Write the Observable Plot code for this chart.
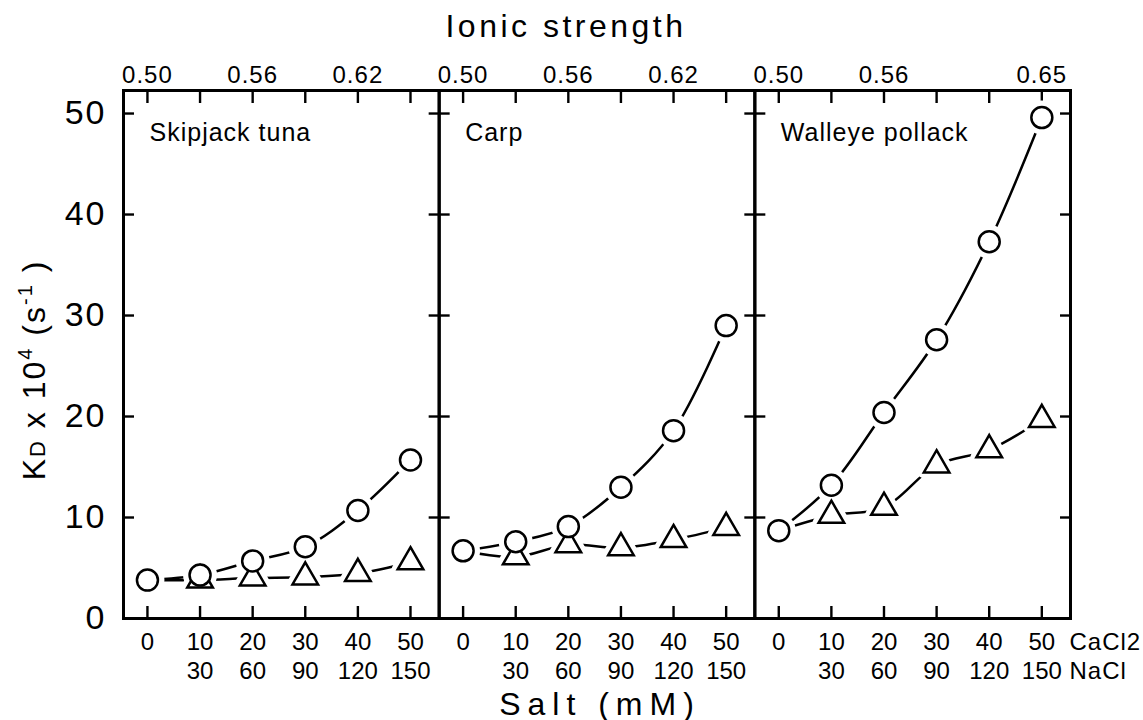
<!DOCTYPE html>
<html>
<head>
<meta charset="utf-8">
<script src="https://cdn.jsdelivr.net/npm/d3@7"></script>
<script src="https://cdn.jsdelivr.net/npm/@observablehq/plot@0.6"></script>
<style>
  html, body { margin: 0; padding: 0; background: #fff; }
  #chart svg { display: block; }
</style>
</head>
<body>
<div id="chart"></div>
<script>
// ---- data ----
const species = ["Skipjack tuna", "Carp", "Walleye pollack"];
const cacl2 = [0, 10, 20, 30, 40, 50];               // CaCl2 (mM)
const naclLabels = ["", "30", "60", "90", "120", "150"]; // NaCl (mM)
const yTicks = [0, 10, 20, 30, 40, 50];
const ionicSkipjack = ["0.50", "", "0.56", "", "0.62", ""];
const ionicCarp = ["0.50", "", "0.56", "", "0.62", ""];
const ionicWalleye = ["0.50", "", "0.56", "", "", "0.65"];

// KD x 10^4 (s^-1): circles (CaCl2) and triangles (NaCl)
const circleSkipjack = [3.8, 4.3, 5.7, 7.1, 10.7, 15.7];
const triangleSkipjack = [3.8, 3.8, 4.0, 4.1, 4.45, 5.6];
const circleCarp = [6.7, 7.6, 9.1, 13.0, 18.6, 29.0];
const triangleCarp = [6.7, 6.1, 7.3, 7.0, 7.8, 9.0];
const circleWalleye = [8.7, 13.2, 20.4, 27.6, 37.3, 49.6];
const triangleWalleye = [8.7, 10.2, 11.0, 15.2, 16.7, 19.7];

// ---- tables built from the arrays ----
const circles = [circleSkipjack, circleCarp, circleWalleye];
const triangles = [triangleSkipjack, triangleCarp, triangleWalleye];
const ionic = [ionicSkipjack, ionicCarp, ionicWalleye];

const rows = [];
species.forEach((s, i) => {
  cacl2.forEach((c, j) => {
    rows.push({species: s, salt: c, series: "CaCl2", value: circles[i][j]});
    rows.push({species: s, salt: c, series: "NaCl", value: triangles[i][j]});
  });
});
const circleRows = rows.filter(d => d.series === "CaCl2");
const triangleRows = rows.filter(d => d.series === "NaCl" && d.salt > 0);
const ionicRows = species.flatMap((s, i) => cacl2.map((c, j) => ({species: s, salt: c, label: ionic[i][j]})));

const FONT = "'Liberation Sans', Arial, sans-serif";

const chart = Plot.plot({
  width: 1143,
  height: 720,
  marginLeft: 123,
  marginRight: 73,
  marginTop: 90,
  marginBottom: 102,
  style: {fontFamily: FONT, color: "black", background: "white", overflow: "visible"},
  fx: {domain: species, padding: 0, axis: null, round: false},
  x: {domain: [-4.55, 55.45], label: null},
  y: {domain: [0, 52.28], label: null},
  marks: [
    // inward ticks
    Plot.axisX({anchor: "bottom", ticks: cacl2, tickSize: -12, fill: "none", label: null, facetAnchor: null, strokeWidth: 2.4}),
    Plot.axisX({anchor: "top", ticks: cacl2, tickSize: -12, fill: "none", label: null, facetAnchor: null, strokeWidth: 2.4}),
    Plot.axisY({anchor: "left", ticks: yTicks.slice(1), tickSize: -11, fill: "none", label: null, facetAnchor: null, strokeWidth: 2.4}),
    Plot.axisY({anchor: "right", ticks: yTicks.slice(1), tickSize: -11, fill: "none", label: null, facetAnchor: null, strokeWidth: 2.4}),
    // tick labels
    Plot.axisX({anchor: "bottom", ticks: cacl2, tickSize: 0, tickPadding: 12, fontSize: 24, lineHeight: 1.17,
      label: null, facetAnchor: null,
      tickFormat: d => { const j = cacl2.indexOf(d); return naclLabels[j] ? `${d}\n${naclLabels[j]}` : `${d}`; }}),
    Plot.axisY({anchor: "left", ticks: yTicks, tickSize: 0, tickPadding: 17, fontSize: 34, label: null,
      tickFormat: d => `${d}`}),
    Plot.text(ionicRows, {fx: "species", x: "salt", text: "label", frameAnchor: "top", dy: -8,
      lineAnchor: "bottom", fontSize: 24, fill: "black"}),
    Plot.text([species[2]], {fx: d => d, text: () => "CaCl2\nNaCl", frameAnchor: "bottom-right", textAnchor: "start",
      lineAnchor: "top", dx: -1, dy: 12, fontSize: 24, lineHeight: 1.17, fill: "black"}),
    // panel titles
    Plot.text(species, {fx: d => d, text: d => d, frameAnchor: "top-left", textAnchor: "start", lineAnchor: "bottom",
      dx: 26, dy: 50, fontSize: 25, fill: "black"}),
    // curves
    Plot.line(rows, {fx: "species", x: "salt", y: "value", z: "series", curve: "catmull-rom",
      stroke: "black", strokeWidth: 2.5}),
    // white halos (gaps between curves and symbols)
    Plot.dot(circleRows, {fx: "species", x: "salt", y: "value", r: 10.5, fill: "white", stroke: "white", strokeWidth: 13, symbol: "circle"}),
    Plot.dot(triangleRows, {fx: "species", x: "salt", y: "value", r: 9.5, fill: "white", stroke: "white", strokeWidth: 12, strokeLinejoin: "round", symbol: "triangle"}),
    // symbols
    Plot.dot(triangleRows, {fx: "species", x: "salt", y: "value", r: 9.5, symbol: "triangle",
      fill: "white", stroke: "black", strokeWidth: 2.5}),
    Plot.dot(circleRows, {fx: "species", x: "salt", y: "value", r: 10.5, symbol: "circle",
      fill: "white", stroke: "black", strokeWidth: 2.5}),
    Plot.frame({stroke: "black", strokeWidth: 3})
  ]
});

document.getElementById("chart").appendChild(chart);

// letter spacing for the large tick labels and panel titles
const svg = d3.select(chart);
svg.selectAll('g[aria-label="y-axis tick label"] text').attr("letter-spacing", 2);
svg.selectAll('g[aria-label="text"] text').attr("letter-spacing", 1);

// titles
svg.append("text")
  .attr("x", 566).attr("y", 37)
  .attr("text-anchor", "middle")
  .attr("font-size", 32).attr("letter-spacing", 3.5)
  .attr("fill", "black").style("font-family", FONT)
  .text("Ionic strength");

svg.append("text")
  .attr("x", 600).attr("y", 715)
  .attr("text-anchor", "middle")
  .attr("font-size", 32).attr("letter-spacing", 7)
  .attr("fill", "black").style("font-family", FONT)
  .text("Salt (mM)");

const yl = svg.append("text")
  .attr("transform", "translate(45,370) rotate(-90)")
  .attr("text-anchor", "middle")
  .attr("font-size", 32).attr("letter-spacing", 2)
  .attr("fill", "black").style("font-family", FONT);
yl.append("tspan").text("K");
yl.append("tspan").attr("font-size", 22).text("D");
yl.append("tspan").text(" x 10");
yl.append("tspan").attr("font-size", 20).attr("dy", -13).text("4");
yl.append("tspan").attr("dy", 13).text(" (s");
yl.append("tspan").attr("font-size", 20).attr("dy", -13).text("-1");
yl.append("tspan").attr("dy", 13).text(" )");
</script>
</body>
</html>
